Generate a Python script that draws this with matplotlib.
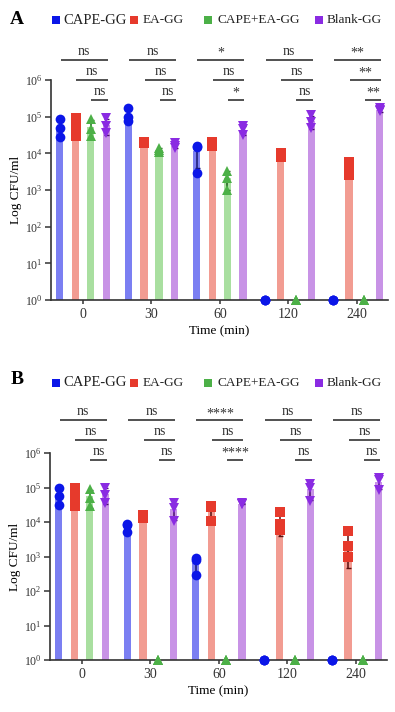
import numpy as np
import matplotlib
matplotlib.use("Agg")
import matplotlib.pyplot as plt
from matplotlib.lines import Line2D

plt.rcParams['font.family'] = ['Liberation Serif', 'DejaVu Serif']
plt.rcParams['mathtext.fontset'] = 'custom'
plt.rcParams['mathtext.rm'] = 'Liberation Serif'
plt.rcParams['mathtext.it'] = 'Liberation Serif:italic'

# ---------------- data ----------------
time_labels = ['0', '30', '60', '120', '240']
groups = ['CAPE-GG', 'EA-GG', 'CAPE+EA-GG', 'Blank-GG']
ytick_labels = ['$10^{0}$', '$10^{1}$', '$10^{2}$', '$10^{3}$', '$10^{4}$', '$10^{5}$', '$10^{6}$']

# Panel A: replicate CFU/ml per time point (value 1 = none detected)
A_cape = [[8.5e4, 4.8e4, 2.8e4], [1.7e5, 1.0e5, 7.5e4], [1.6e4, 1.5e4, 3.0e3], [1, 1, 1], [1, 1, 1]]
A_ea = [[9.0e4, 5.0e4, 3.0e4], [2.0e4, 1.95e4, 1.9e4], [2.1e4, 1.9e4, 1.6e4], [1.0e4, 9.0e3, 8.0e3], [5.9e3, 4.0e3, 2.6e3]]
A_mix = [[8.5e4, 4.5e4, 3.0e4], [1.4e4, 1.2e4, 1.1e4], [3.2e3, 2.1e3, 1.0e3], [1, 1, 1], [1, 1, 1]]
A_blank = [[9.0e4, 5.5e4, 3.5e4], [1.9e4, 1.6e4, 1.4e4], [5.5e4, 4.5e4, 3.2e4], [1.1e5, 7.0e4, 5.0e4], [1.7e5, 1.5e5, 1.4e5]]

# Panel B
B_cape = [[1.0e5, 5.5e4, 3.2e4], [9.0e3, 8.0e3, 5.0e3], [9.0e2, 8.0e2, 3.0e2], [1, 1, 1], [1, 1, 1]]
B_ea = [[9.5e4, 5.5e4, 3.0e4], [1.6e4, 1.4e4, 1.3e4], [3.0e4, 2.8e4, 1.1e4], [2.0e4, 8.5e3, 6.0e3], [5.5e3, 2.0e3, 1.0e3]]
B_mix = [[9.0e4, 5.0e4, 3.0e4], [1, 1, 1], [1, 1, 1], [1, 1, 1], [1, 1, 1]]
B_blank = [[1.0e5, 6.0e4, 3.5e4], [3.5e4, 2.5e4, 1.1e4], [3.5e4, 3.3e4, 3.4e4], [1.3e5, 1.0e5, 4.0e4], [1.9e5, 1.7e5, 8.5e4]]

# significance labels vs Blank-GG: rows = (CAPE, EA, CAPE+EA), per time
A_sig = [['ns', 'ns', 'ns'], ['ns', 'ns', 'ns'], ['*', 'ns', '*'], ['ns', 'ns', 'ns'], ['**', '**', '**']]
B_sig = [['ns', 'ns', 'ns'], ['ns', 'ns', 'ns'], ['****', 'ns', '****'], ['ns', 'ns', 'ns'], ['ns', 'ns', 'ns']]

# ---------------- style ----------------
bar_colors = ['#7b7ff2', '#f29c92', '#a9dfa0', '#c893e6']
mk_colors = ['#0b16e8', '#e63a2c', '#4cb047', '#8a2be2']
err_colors = ['#1a1a70', '#5a1010', '#1f5a1c', '#4a1070']
markers = ['o', 's', '^', 'v']
offsets = [-0.34, -0.11, 0.11, 0.34]
bar_w = 0.105

fig = plt.figure(figsize=(3.95, 7.12), dpi=100)
W, H = 395.0, 712.0


def make_panel(rect, data, sig, row_y, letter, letter_y, legend_y):
    ax = fig.add_axes(rect)
    x = np.arange(len(time_labels))
    for gi, series in enumerate(data):
        arr = np.array(series, dtype=float)
        means = arr.mean(axis=1)
        sds = arr.std(axis=1, ddof=1)
        xs = x + offsets[gi]
        ax.bar(xs, means - 1, bottom=1, width=bar_w, color=bar_colors[gi],
               edgecolor='none', zorder=2)
        mask = means > 1.5
        lo = np.minimum(sds, means - 1e-9)
        ax.errorbar(xs[mask], means[mask], yerr=[lo[mask], sds[mask]], fmt='none',
                    ecolor=err_colors[gi], elinewidth=1.1, capsize=1.8, capthick=1.0,
                    zorder=3, clip_on=False)
        for ti in range(len(time_labels)):
            ax.plot(np.full(arr.shape[1], xs[ti]), arr[ti], linestyle='none',
                    marker=markers[gi], color=mk_colors[gi], markersize=7,
                    markeredgewidth=0, zorder=4, clip_on=False)
    ax.set_yscale('log')
    ax.set_ylim(1, 1e6)
    ax.set_xlim(-0.47, 4.46)
    ax.set_yticks([10.0 ** k for k in range(7)])
    ax.set_yticklabels(ytick_labels)
    ax.yaxis.set_minor_locator(matplotlib.ticker.NullLocator())
    ax.set_xticks(x)
    ax.set_xticklabels(time_labels)
    ax.tick_params(axis='y', labelsize=8.5, length=4, width=1.1, pad=2, colors='#333333')
    ax.tick_params(axis='x', labelsize=10, length=3, width=1.1, pad=3, colors='#333333')
    for s in ['top', 'right']:
        ax.spines[s].set_visible(False)
    for s in ['left', 'bottom']:
        ax.spines[s].set_linewidth(1.2)
        ax.spines[s].set_color('#333333')
    ax.set_xlabel('Time (min)', fontsize=9.5, labelpad=3)
    ax.set_ylabel('Log CFU/ml', fontsize=9.5, labelpad=2)

    # significance lines
    tr = ax.get_xaxis_transform()
    for ti in range(len(time_labels)):
        for r in range(3):
            x0 = ti + offsets[r] + 0.01
            x1 = ti + offsets[3] + 0.02
            yv = row_y[r]
            ax.plot([x0, x1], [yv, yv], color='#333333', lw=1.2, transform=tr,
                    clip_on=False, solid_capstyle='butt')
            lab = sig[ti][r]
            dy = 0.0 if lab.startswith('*') else 0.008
            ax.text((x0 + x1) / 2, yv + dy, lab, transform=tr, ha='center',
                    va='bottom', fontsize=10 if lab == 'ns' else 10, color='#333333')

    fig.text(17 / W, 1 - letter_y / H, letter, fontsize=14, fontweight='bold',
             ha='center', va='center')
    sq_x = [56, 134, 208, 319]
    tx_x = [63, 143, 217, 327]
    sizes = [10.5, 9.5, 9.5, 9.5]
    for gi, name in enumerate(groups):
        fig.add_artist(Line2D([sq_x[gi] / W], [1 - legend_y / H], marker='s',
                              color=mk_colors[gi], markersize=6, markeredgewidth=0,
                              linestyle='none', transform=fig.transFigure))
        fig.text(tx_x[gi] / W, 1 - legend_y / H, name, fontsize=sizes[gi],
                 ha='left', va='center', color='#222222')
    return ax


axA = make_panel([51 / W, 1 - 300 / H, 337 / W, 220 / H], [A_cape, A_ea, A_mix, A_blank],
                 A_sig, [1.0909, 1.0, 0.909], 'A', 20, 20)
axB = make_panel([50 / W, 1 - 660 / H, 337 / W, 207 / H], [B_cape, B_ea, B_mix, B_blank],
                 B_sig, [1.159, 1.0628, 0.9662], 'B', 379, 383)

fig.savefig('out.png', dpi=100)
